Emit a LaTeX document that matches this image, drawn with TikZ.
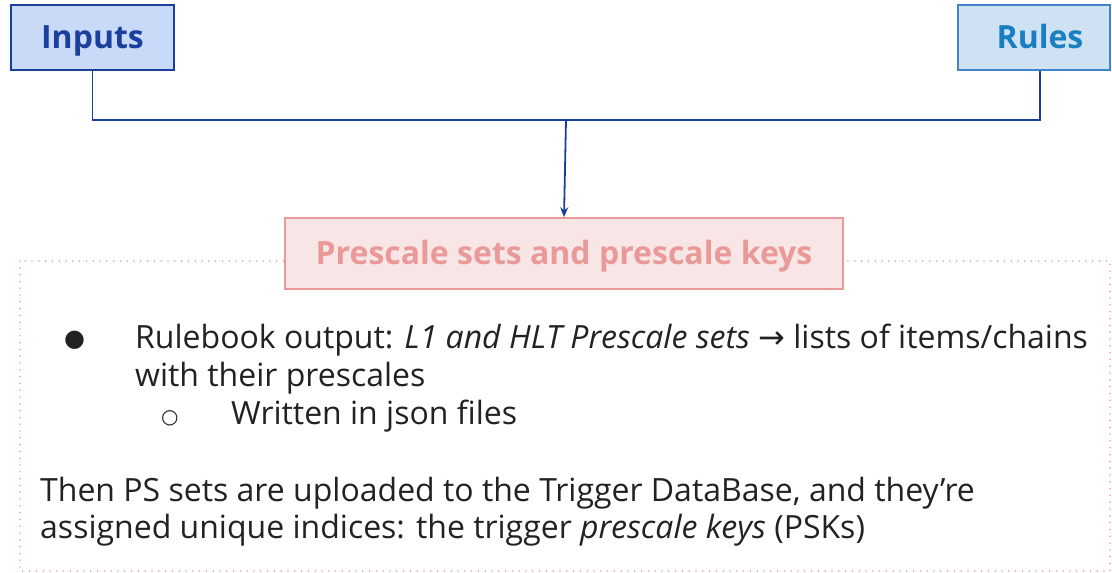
\documentclass[tikz,border=0pt]{standalone}
\usepackage{fontspec}
\setmainfont{Open Sans}
\newfontfamily\symfont{DejaVu Sans}
\usetikzlibrary{arrows.meta}
\definecolor{inblue}{HTML}{1C3F9C}
\definecolor{infill}{HTML}{C9DAF8}
\definecolor{rublue}{HTML}{3D85C6}
\definecolor{rutext}{HTML}{1A7FC1}
\definecolor{rufill}{HTML}{CFE2F3}
\definecolor{pkline}{HTML}{EA9999}
\definecolor{pkfill}{HTML}{F8E6E6}
\definecolor{pkdot}{HTML}{E8A0A8}
\definecolor{bodytext}{HTML}{222222}
\tikzset{
  headbox/.style={draw, line width=1.6pt, inner sep=0pt, minimum height=65pt,
    text height=23pt, text depth=2pt,
    font=\fontsize{32}{38}\selectfont\bfseries},
  bodyline/.style={anchor=base west, inner sep=0pt, text=bodytext,
    font=\fontsize{32}{38}\selectfont},
  link/.style={draw=inblue, line width=1.8pt},
}
\begin{document}
\begin{tikzpicture}[x=1pt,y=-1pt]
\useasboundingbox (0,0) rectangle (1112,573);
% frame around the description
\draw[pkdot, line width=1.8pt, line cap=round, dash pattern=on 0pt off 6.8pt] (20,261) rectangle (1110,571);
% top boxes
\node[headbox, fill=infill, draw=inblue, text=inblue, minimum width=163pt] (inputs) at (92.5,37.5) {Inputs};
\node[headbox, fill=rufill, draw=rublue, text=rutext, minimum width=152pt] (rules) at (1034,37.5) {\hspace*{12pt}Rules};
% target box
\node[headbox, draw=pkline, fill=pkfill, text=pkline, minimum width=558pt, minimum height=71pt] (psk) at (564,253.5) {Prescale sets and prescale keys};
% connectors
\coordinate (j) at (566,120);
\coordinate (rfoot) at ([xshift=6pt]rules.south);
\draw[link] (inputs.south) |- (j) -| (rfoot);
\draw[link, -{Stealth[length=10pt,width=8pt]}] (j) -- (psk.north);
% description text
\node[bodyline, font=\symfont\fontsize{24}{30}\selectfont] (b1) at (64,346) {●};
\node[bodyline] (l1) at (135,348) {Rulebook output: \textit{L1 and HLT Prescale sets} {\symfont\fontsize{32}{38}\selectfont →} lists of items/chains};
\node[bodyline] (l2) at (135,386.5) {with their prescales};
\node[bodyline, font=\symfont\fontsize{20}{30}\selectfont] (b2) at (161,423) {○};
\node[bodyline] (l3) at (231,424.5) {Written in json files};
\node[bodyline] (l4) at (40,501.5) {Then PS sets are uploaded to the Trigger DataBase, and they’re};
\node[bodyline] (l5) at (40,538) {assigned unique indices: the trigger \textit{prescale keys} (PSKs)};
\end{tikzpicture}
\end{document}
